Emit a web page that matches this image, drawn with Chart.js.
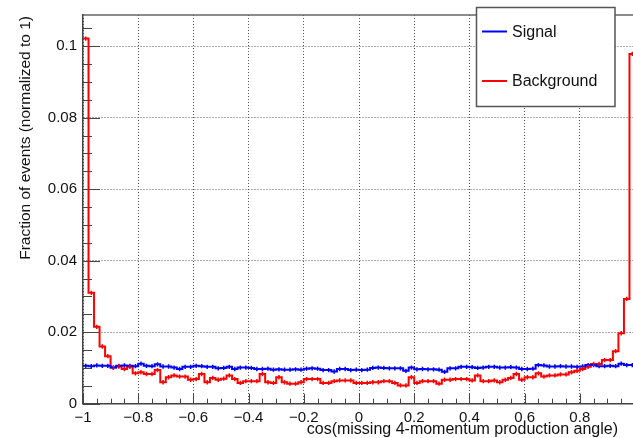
<!DOCTYPE html>
<html>
<head>
<meta charset="utf-8">
<script src="https://cdn.jsdelivr.net/npm/chart.js@4.4.0/dist/chart.umd.min.js"></script>
<style>
html, body { margin: 0; padding: 0; background: #fff; overflow: hidden; }
#wrap { width: 633px; height: 438px; overflow: hidden; }
</style>
</head>
<body>
<div id="wrap"><canvas id="myChart" width="640" height="438"></canvas></div>
<script>
// histogram binning: 100 bins on [-1, 1]
var nBins = 100, xLow = -1, binWidth = 0.02;
var binLow = [];
for (var i = 0; i < nBins; i++) binLow.push(+(xLow + i * binWidth).toFixed(2));

var signal = [
  0.0106,0.0105,0.0107,0.0106,0.0106,0.0101,0.0106,0.0107,0.0106,0.0105,
  0.0112,0.0106,0.0105,0.0110,0.0104,0.0104,0.0101,0.0097,0.0103,0.0103,
  0.0106,0.0105,0.0103,0.0103,0.0099,0.0100,0.0103,0.0097,0.0101,0.0101,
  0.0100,0.0097,0.0097,0.0098,0.0095,0.0096,0.0095,0.0095,0.0096,0.0095,
  0.0098,0.0099,0.0098,0.0094,0.0094,0.0090,0.0097,0.0097,0.0094,0.0095,
  0.0094,0.0095,0.0100,0.0101,0.0100,0.0099,0.0099,0.0099,0.0092,0.0101,
  0.0096,0.0097,0.0096,0.0096,0.0095,0.0089,0.0099,0.0099,0.0103,0.0103,
  0.0102,0.0100,0.0101,0.0103,0.0103,0.0101,0.0101,0.0102,0.0101,0.0097,
  0.0097,0.0098,0.0108,0.0107,0.0104,0.0104,0.0105,0.0104,0.0104,0.0103,
  0.0104,0.0108,0.0108,0.0105,0.0105,0.0106,0.0105,0.0112,0.0108,0.0108
];
var background = [
  0.1021,0.0310,0.0215,0.0160,0.0133,0.0101,0.0104,0.0097,0.0103,0.0085,
  0.0088,0.0083,0.0083,0.0094,0.0060,0.0074,0.0079,0.0076,0.0076,0.0067,
  0.0069,0.0083,0.0060,0.0072,0.0067,0.0070,0.0079,0.0069,0.0058,0.0063,
  0.0063,0.0063,0.0083,0.0060,0.0058,0.0074,0.0060,0.0056,0.0056,0.0060,
  0.0069,0.0069,0.0069,0.0058,0.0058,0.0063,0.0065,0.0065,0.0065,0.0058,
  0.0058,0.0058,0.0060,0.0060,0.0063,0.0063,0.0058,0.0051,0.0051,0.0074,
  0.0058,0.0063,0.0063,0.0063,0.0056,0.0067,0.0067,0.0069,0.0069,0.0069,
  0.0065,0.0079,0.0063,0.0063,0.0065,0.0060,0.0067,0.0072,0.0083,0.0067,
  0.0074,0.0074,0.0085,0.0076,0.0079,0.0079,0.0082,0.0082,0.0088,0.0092,
  0.0097,0.0103,0.0111,0.0111,0.0122,0.0122,0.0147,0.0197,0.0293,0.0978
];
var statErr = 0.0006;

var xTicks = [-1, -0.8, -0.6, -0.4, -0.2, 0, 0.2, 0.4, 0.6, 0.8];
var yTicks = [0, 0.02, 0.04, 0.06, 0.08, 0.1];
var font = "'Liberation Sans', Arial, sans-serif";

function steps(vals) {
  var pts = vals.map(function (v, i) { return { x: binLow[i], y: v }; });
  pts.push({ x: binLow[nBins - 1] + binWidth, y: vals[nBins - 1] });
  return pts;
}
function fmt(v) {
  v = +(+v).toFixed(3);
  return v < 0 ? '\u2212' + Math.abs(v) : String(v);
}

// ROOT style frame: inward ticks, top line, error bars, legend, titles
var rootStyle = {
  id: 'rootStyle',
  beforeDatasetsDraw: function (chart) {
    var ctx = chart.ctx, a = chart.chartArea;
    var xs = chart.scales.x, ys = chart.scales.y;
    ctx.save();
    ctx.strokeStyle = '#444';
    ctx.lineWidth = 1;
    ctx.beginPath();
    for (var k = 0; k <= 40; k++) {
      var v = -1 + k * 0.05;
      var px = Math.round(xs.getPixelForValue(v)) + 0.5;
      var len = (k % 4 === 0) ? 10 : 5;
      ctx.moveTo(px, a.bottom); ctx.lineTo(px, a.bottom - len);
    }
    for (var j = 0; j <= 21; j++) {
      var w = j * 0.005;
      var py = Math.round(ys.getPixelForValue(w)) + 0.5;
      var l2 = (j % 4 === 0) ? 17 : 9;
      ctx.moveTo(a.left, py); ctx.lineTo(a.left + l2, py);
    }
    ctx.stroke();
    ctx.strokeStyle = '#666';
    ctx.lineWidth = 1.5;
    ctx.beginPath();
    ctx.moveTo(a.left, a.top); ctx.lineTo(a.right, a.top);
    ctx.stroke();
    ctx.restore();
  },
  afterDatasetsDraw: function (chart) {
    var ctx = chart.ctx, a = chart.chartArea;
    var xs = chart.scales.x, ys = chart.scales.y;
    ctx.save();
    ctx.beginPath();
    ctx.rect(a.left, a.top, a.right - a.left, a.bottom - a.top);
    ctx.clip();
    chart.data.datasets.forEach(function (ds) {
      ctx.strokeStyle = ds.borderColor;
      ctx.lineWidth = 1.5;
      ctx.beginPath();
      ds.values.forEach(function (v, i) {
        var px = xs.getPixelForValue(binLow[i] + binWidth / 2);
        ctx.moveTo(px, ys.getPixelForValue(v - statErr));
        ctx.lineTo(px, ys.getPixelForValue(v + statErr));
      });
      ctx.stroke();
    });
    ctx.restore();
  },
  afterDraw: function (chart) {
    var ctx = chart.ctx, a = chart.chartArea;
    ctx.save();
    // legend
    ctx.fillStyle = '#fff';
    ctx.fillRect(476.5, 7.5, 138.5, 99);
    ctx.strokeStyle = '#555';
    ctx.lineWidth = 1.5;
    ctx.strokeRect(476.5, 7.5, 138.5, 99);
    var rows = [31.5, 81];
    chart.data.datasets.forEach(function (ds, i) {
      ctx.strokeStyle = ds.borderColor;
      ctx.lineWidth = 2;
      ctx.beginPath();
      ctx.moveTo(482, rows[i]); ctx.lineTo(507, rows[i]);
      ctx.stroke();
      ctx.fillStyle = '#111';
      ctx.font = '16px ' + font;
      ctx.textBaseline = 'middle';
      ctx.textAlign = 'left';
      ctx.fillText(ds.label, 512, rows[i] + 1);
    });
    // axis titles
    ctx.fillStyle = '#111';
    ctx.font = '16px ' + font;
    ctx.textAlign = 'right';
    ctx.textBaseline = 'middle';
    ctx.fillText('cos(missing 4-momentum production angle)', 618, 430);
    ctx.font = '15.5px ' + font;
    ctx.translate(26, a.top + 1);
    ctx.rotate(-Math.PI / 2);
    ctx.fillText('Fraction of events (normalized to 1)', 0, 0);
    ctx.restore();
  }
};

var ctx = document.getElementById('myChart').getContext('2d');
var myChart = new Chart(ctx, {
  type: 'line',
  data: {
    datasets: [{
      label: 'Signal',
      values: signal,
      data: steps(signal),
      borderColor: '#0000ff',
      borderWidth: 2,
      stepped: 'before',
      pointRadius: 0,
      fill: false
    }, {
      label: 'Background',
      values: background,
      data: steps(background),
      borderColor: '#ff0000',
      borderWidth: 2,
      stepped: 'before',
      pointRadius: 0,
      fill: false
    }]
  },
  options: {
    responsive: false,
    animation: false,
    events: [],
    layout: { padding: { top: 7, right: 5, left: 0, bottom: 0 } },
    plugins: {
      legend: { display: false },
      tooltip: { enabled: false }
    },
    scales: {
      x: {
        type: 'linear',
        min: -1,
        max: 1,
        afterBuildTicks: function (s) { s.ticks = xTicks.map(function (v) { return { value: v }; }); },
        afterFit: function (s) { s.height = 34.3; },
        grid: { color: '#555', lineWidth: 1, drawTicks: false },
        border: { display: true, color: '#444', width: 1.5, dash: [1, 2] },
        ticks: {
          autoSkip: false, maxRotation: 0, padding: 5,
          color: '#111', font: { family: font, size: 15 },
          callback: function (v) { return fmt(v); }
        }
      },
      y: {
        min: 0,
        max: 0.1087,
        afterBuildTicks: function (s) { s.ticks = yTicks.map(function (v) { return { value: v }; }); },
        afterFit: function (s) { s.width = 83; },
        grid: { color: '#555', lineWidth: 1, drawTicks: false },
        border: { display: true, color: '#444', width: 1.5, dash: [1, 2] },
        ticks: {
          padding: 6,
          color: '#111', font: { family: font, size: 15 },
          callback: function (v) { return fmt(v); }
        }
      }
    }
  },
  plugins: [rootStyle]
});
</script>
</body>
</html>
